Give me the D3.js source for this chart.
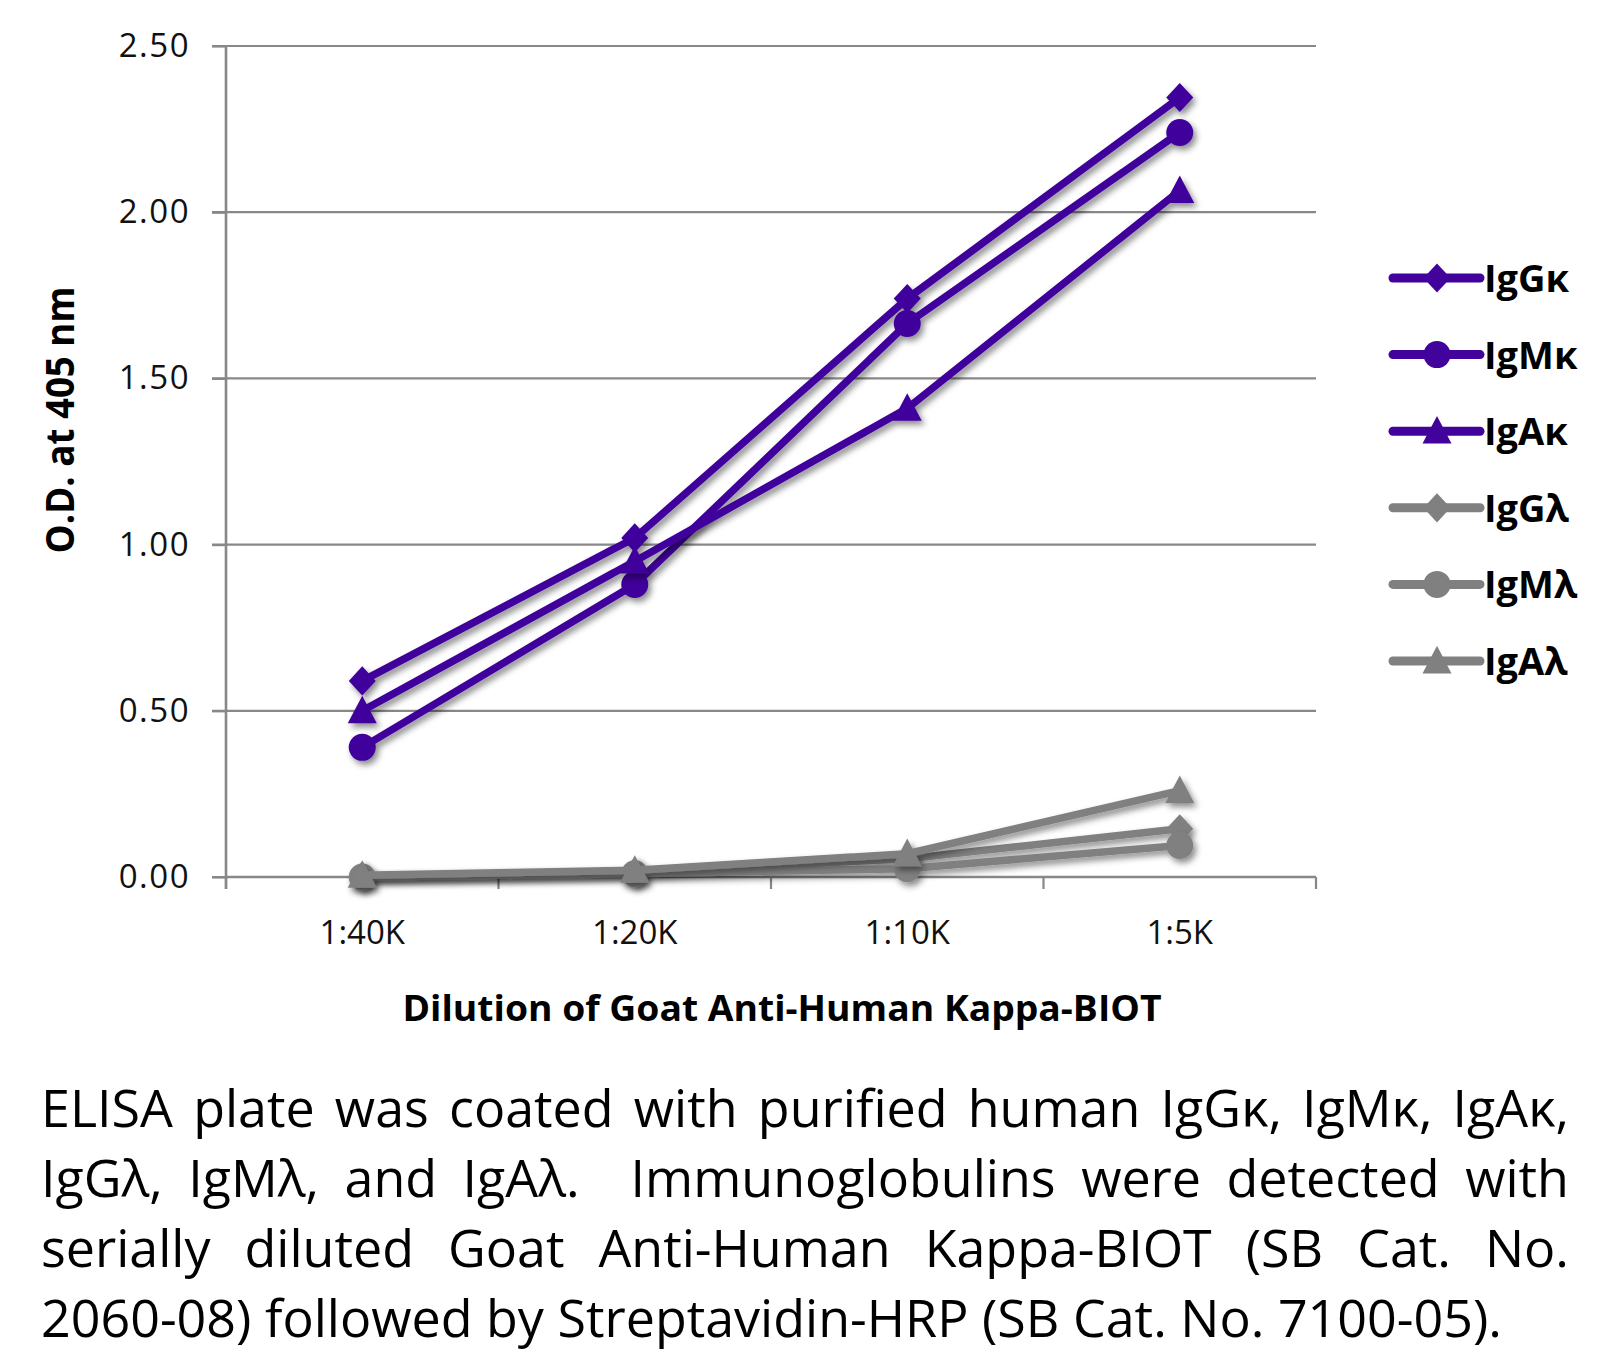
<!DOCTYPE html>
<html>
<head>
<meta charset="utf-8">
<script src="https://cdn.jsdelivr.net/npm/d3@7"></script>
<style>
  html, body { margin: 0; padding: 0; background: #fff; }
  svg { display: block; }
</style>
</head>
<body>
<svg id="chart" width="1608" height="1352"></svg>
<script>
const categories = ["1:40K", "1:20K", "1:10K", "1:5K"];
const seriesNames = ["IgGκ", "IgMκ", "IgAκ", "IgGλ", "IgMλ", "IgAλ"];
const igGk = [0.59, 1.02, 1.74, 2.345];
const igMk = [0.39, 0.88, 1.665, 2.24];
const igAk = [0.50, 0.95, 1.41, 2.065];
const igGl = [0.003, 0.015, 0.055, 0.145];
const igMl = [0.0, 0.01, 0.025, 0.095];
const igAl = [0.005, 0.02, 0.07, 0.26];
const yTicks = [0, 0.5, 1.0, 1.5, 2.0, 2.5];
const xTitle = "Dilution of Goat Anti-Human Kappa-BIOT";
const yTitle = "O.D. at 405 nm";
const captionLines = [
  "ELISA plate was coated with purified human IgGκ, IgMκ, IgAκ,",
  "IgGλ, IgMλ, and IgAλ.  Immunoglobulins were detected with",
  "serially diluted Goat Anti-Human Kappa-BIOT (SB Cat. No.",
  "2060-08) followed by Streptavidin-HRP (SB Cat. No. 7100-05)."
];

(function () {
const PURPLE = "#41039B", GRAY = "#808080", AXIS = "#888888";
const seriesValues = [igGk, igMk, igAk, igGl, igMl, igAl];
const seriesColors = [PURPLE, PURPLE, PURPLE, GRAY, GRAY, GRAY];
const seriesShapes = ["diamond", "circle", "triangle", "diamond", "circle", "triangle"];

const svg = d3.select("#chart");
const defs = svg.append("defs");
const f = defs.append("filter").attr("id", "shadow").attr("x", "-10%").attr("y", "-10%").attr("width", "130%").attr("height", "130%");
f.append("feDropShadow").attr("dx", 3).attr("dy", 4).attr("stdDeviation", 3)
  .attr("flood-color", "#000").attr("flood-opacity", 0.45);

const pLeft = 226, pRight = 1316, pTop = 46, pBottom = 877;
const x = d3.scaleBand().domain(categories).range([pLeft, pRight]);
const xc = c => x(c) + x.bandwidth() / 2;
const y = d3.scaleLinear().domain([0, 2.5]).range([pBottom, pTop]);

const diamondType = { draw(ctx, size) { const r = Math.sqrt(size) / 2; ctx.moveTo(0, -r * 1.08); ctx.lineTo(r, 0); ctx.lineTo(0, r * 1.08); ctx.lineTo(-r, 0); ctx.closePath(); } };
const circleType = { draw(ctx, size) { const r = Math.sqrt(size) / 2; ctx.moveTo(r, 0); ctx.arc(0, 0, r, 0, 2 * Math.PI); } };
const triangleType = { draw(ctx, size) { const s = Math.sqrt(size); const h = s * 0.95; ctx.moveTo(0, -h * 0.55); ctx.lineTo(s / 2, h * 0.45); ctx.lineTo(-s / 2, h * 0.45); ctx.closePath(); } };
const shapeMap = { diamond: d3.symbol().type(diamondType).size(27 * 27), circle: d3.symbol().type(circleType).size(27 * 27), triangle: d3.symbol().type(triangleType).size(29 * 29) };

// gridlines
svg.append("g").selectAll("line").data(yTicks).join("line")
  .attr("x1", pLeft - 14).attr("x2", pRight).attr("y1", d => y(d)).attr("y2", d => y(d))
  .attr("stroke", AXIS).attr("stroke-width", 2.2);

// y axis
const yAxis = svg.append("g").attr("transform", `translate(${pLeft},0)`)
  .call(d3.axisLeft(y).tickValues(yTicks).tickFormat(d3.format(".2f")).tickSize(14).tickPadding(22));
yAxis.select(".domain").remove();
yAxis.selectAll("line").attr("stroke", AXIS).attr("stroke-width", 2.2);
yAxis.selectAll("text").attr("font-family", "'Open Sans', sans-serif").attr("font-size", 33)
  .attr("letter-spacing", 1.5).attr("fill", "#111");
svg.append("line").attr("x1", pLeft).attr("x2", pLeft).attr("y1", pTop).attr("y2", pBottom + 12)
  .attr("stroke", AXIS).attr("stroke-width", 2.6);

// x axis
const xAxis = svg.append("g").attr("transform", `translate(0,${pBottom})`)
  .call(d3.axisBottom(x).tickSize(0).tickPadding(44));
xAxis.select(".domain").remove();
xAxis.selectAll("text").attr("font-family", "'Open Sans', sans-serif").attr("font-size", 33).attr("fill", "#111");
svg.append("line").attr("x1", pLeft).attr("x2", pRight).attr("y1", pBottom).attr("y2", pBottom)
  .attr("stroke", AXIS).attr("stroke-width", 2.6);
const bounds = categories.map(c => x(c)).concat([pRight]);
svg.append("g").selectAll("line").data(bounds).join("line")
  .attr("x1", d => d).attr("x2", d => d).attr("y1", pBottom).attr("y2", pBottom + 12)
  .attr("stroke", AXIS).attr("stroke-width", 2.2);

// axis titles
svg.append("text").attr("x", 782).attr("y", 1021).attr("text-anchor", "middle")
  .attr("font-family", "'Open Sans', sans-serif").attr("font-weight", 700).attr("font-size", 36)
  .attr("textLength", 759).attr("lengthAdjust", "spacingAndGlyphs").attr("fill", "#000").text(xTitle);
svg.append("text").attr("transform", "translate(74,420) rotate(-90)").attr("text-anchor", "middle")
  .attr("font-family", "'Open Sans', sans-serif").attr("font-weight", 700).attr("font-size", 40)
  .attr("textLength", 267).attr("lengthAdjust", "spacingAndGlyphs").attr("fill", "#000").text(yTitle);

// series
const line = d3.line().x(d => xc(d.c)).y(d => y(d.v));
seriesValues.forEach((vals, i) => {
  const pts = vals.map((v, j) => ({ c: categories[j], v }));
  const g = svg.append("g").attr("filter", "url(#shadow)");
  g.append("path").datum(pts).attr("d", line).attr("fill", "none")
    .attr("stroke", seriesColors[i]).attr("stroke-width", 7.5).attr("stroke-linejoin", "round");
  g.selectAll("path.m").data(pts).join("path").attr("class", "m")
    .attr("transform", d => `translate(${xc(d.c)},${y(d.v)})`)
    .attr("d", shapeMap[seriesShapes[i]]()).attr("fill", seriesColors[i]);
});

// legend
const legendY = d3.scalePoint().domain(seriesNames).range([278, 661]);
const lg = svg.append("g");
seriesNames.forEach((name, i) => {
  const yy = legendY(name);
  lg.append("line").attr("x1", 1393).attr("x2", 1480).attr("y1", yy).attr("y2", yy)
    .attr("stroke", seriesColors[i]).attr("stroke-width", 9).attr("stroke-linecap", "round");
  lg.append("path").attr("transform", `translate(1437,${yy})`).attr("d", shapeMap[seriesShapes[i]]()).attr("fill", seriesColors[i]);
  lg.append("text").attr("x", 1484).attr("y", yy + 14).attr("font-family", "'Open Sans', sans-serif")
    .attr("font-weight", 700).attr("font-size", 38).attr("fill", "#000").text(name);
});

// caption (justified)
const capLeft = 41, capRight = 1569, capBase = 1127, capStep = 70, lastEnd = 1502;
const cap = svg.append("g").attr("font-family", "'Open Sans', sans-serif").attr("font-size", 52).attr("fill", "#000");
const measure = cap.append("text").attr("x", -9999).attr("y", -9999);
function wWidth(s) { if (!s) return 0; measure.text(s); return measure.node().getComputedTextLength(); }
const spaceW = wWidth("a a") - wWidth("aa");
const lastWords = captionLines[3].split(" ");
const lastNat = d3.sum(lastWords, wWidth) + spaceW * (lastWords.length - 1);
const sx = (lastEnd - capLeft) / lastNat;
captionLines.forEach((ln, li) => {
  const words = ln.split(" ");
  const widths = words.map(w => wWidth(w) * sx);
  const total = d3.sum(widths);
  const isLast = li === captionLines.length - 1;
  const gap = isLast ? spaceW * sx : (capRight - capLeft - total) / (words.length - 1);
  let xx = capLeft;
  words.forEach((w, k) => {
    if (w) cap.append("text").attr("transform", `translate(${xx},${capBase + li * capStep}) scale(${sx},1)`).text(w);
    xx += widths[k] + gap;
  });
});
measure.remove();
})();
</script>
</body>
</html>
